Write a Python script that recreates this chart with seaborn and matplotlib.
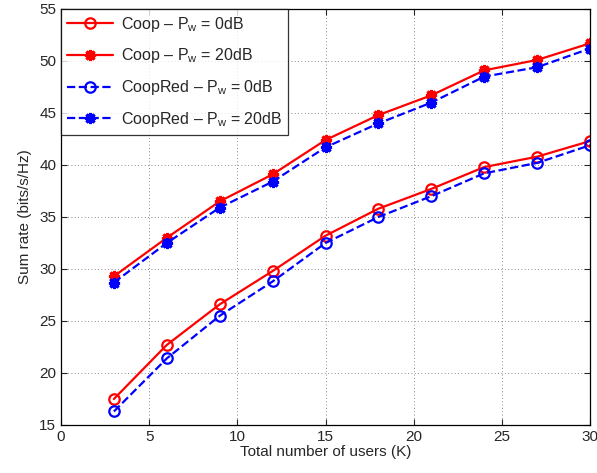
import matplotlib
matplotlib.use("Agg")
import matplotlib.pyplot as plt
import seaborn as sns
import pandas as pd

K = [3, 6, 9, 12, 15, 18, 21, 24, 27, 30]
coop_0 = [17.5, 22.7, 26.6, 29.8, 33.2, 35.8, 37.7, 39.8, 40.8, 42.3]
coop_20 = [29.3, 33.0, 36.5, 39.1, 42.4, 44.8, 46.7, 49.1, 50.1, 51.7]
red_0 = [16.3, 21.4, 25.5, 28.8, 32.5, 35.0, 37.0, 39.2, 40.2, 41.9]
red_20 = [28.7, 32.5, 35.9, 38.4, 41.7, 44.0, 46.0, 48.5, 49.4, 51.2]

labels = [r"Coop – P$_{\rm w}$ = 0dB", r"Coop – P$_{\rm w}$ = 20dB",
          r"CoopRed – P$_{\rm w}$ = 0dB", r"CoopRed – P$_{\rm w}$ = 20dB"]

sns.set_style("ticks")
plt.rcParams['font.family'] = ['Liberation Sans', 'DejaVu Sans']
plt.rcParams['mathtext.fontset'] = 'custom'
plt.rcParams['mathtext.rm'] = 'Liberation Sans'
plt.rcParams['mathtext.it'] = 'Liberation Sans:italic'

fig = plt.figure(figsize=(5.97, 4.73), dpi=100)
ax = fig.add_axes([61/597, 1-425/473, (590-61)/597, (425-9)/473])

star = (8, 2, 0)
series = [
    (coop_0, labels[0], 'red', '-', 'o', 'none'),
    (coop_20, labels[1], 'red', '-', star, 'red'),
    (red_0, labels[2], 'blue', '--', 'o', 'none'),
    (red_20, labels[3], 'blue', '--', star, 'blue'),
]
for vals, lab, col, ls, mk, mfc in series:
    df = pd.DataFrame({'K': K, 'rate': vals})
    sns.lineplot(data=df, x='K', y='rate', ax=ax, color=col, linestyle=ls,
                 marker=mk, markersize=7.5 if mk == 'o' else 8,
                 markerfacecolor=mfc, markeredgecolor=col,
                 markeredgewidth=1.6 if mk == 'o' else 2.2,
                 linewidth=1.6, label=lab, dashes=False if ls == '-' else (3.6, 2.4))

ax.set_xlim(0, 30)
ax.set_ylim(15, 55)
ax.set_xticks(range(0, 31, 5))
ax.set_yticks(range(15, 56, 5))
ax.grid(True, linestyle=(0, (1, 3)), color='0.4', linewidth=0.6)
ax.tick_params(direction='in', top=True, right=True, labelsize=11, length=4)
for s in ax.spines.values():
    s.set_linewidth(0.9)
    s.set_color('black')
ax.set_xlabel("Total number of users (K)", fontsize=11, labelpad=1)
ax.set_ylabel("Sum rate (bits/s/Hz)", fontsize=11, labelpad=5)

leg = ax.legend(loc='upper left', fontsize=11.5, frameon=True, fancybox=False,
                edgecolor='black', borderaxespad=0.0, handlelength=2.9,
                handletextpad=0.5, labelspacing=0.8, borderpad=0.35)
leg.get_frame().set_linewidth(0.9)

fig.savefig("out.png", dpi=100)
